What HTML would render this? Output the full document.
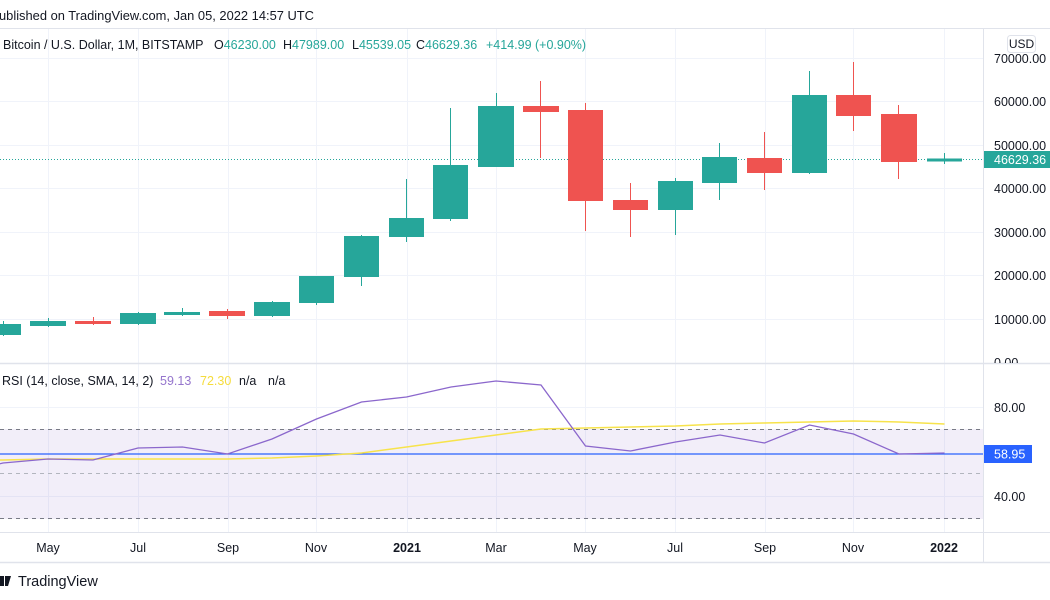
<!DOCTYPE html>
<html><head><meta charset="utf-8"><style>
html,body{margin:0;padding:0;background:#fff;}
svg{display:block;font-family:"Liberation Sans",sans-serif;}
</style></head><body>
<svg width="1050" height="600" viewBox="0 0 1050 600" xmlns="http://www.w3.org/2000/svg">
<rect width="1050" height="600" fill="#fff"/>
<!-- header -->
<text x="-1" y="20" font-size="13" fill="#131722" textLength="315" lengthAdjust="spacingAndGlyphs">ublished on TradingView.com, Jan 05, 2022 14:57 UTC</text>
<line x1="0" y1="28.5" x2="1050" y2="28.5" stroke="#e0e3eb"/>
<!-- grid -->
<g stroke="#f0f3fa" stroke-width="1">
<line x1="0" x2="983" y1="58.5" y2="58.5"/><line x1="0" x2="983" y1="101.5" y2="101.5"/>
<line x1="0" x2="983" y1="145.5" y2="145.5"/><line x1="0" x2="983" y1="188.5" y2="188.5"/>
<line x1="0" x2="983" y1="232.5" y2="232.5"/><line x1="0" x2="983" y1="275.5" y2="275.5"/>
<line x1="0" x2="983" y1="319.5" y2="319.5"/>
<line x1="0" x2="983" y1="407.5" y2="407.5"/><line x1="0" x2="983" y1="496.5" y2="496.5"/>
<line x1="48.5" x2="48.5" y1="29" y2="532"/><line x1="138.5" x2="138.5" y1="29" y2="532"/>
<line x1="228.5" x2="228.5" y1="29" y2="532"/><line x1="316.5" x2="316.5" y1="29" y2="532"/>
<line x1="407.5" x2="407.5" y1="29" y2="532"/><line x1="496.5" x2="496.5" y1="29" y2="532"/>
<line x1="585.5" x2="585.5" y1="29" y2="532"/><line x1="675.5" x2="675.5" y1="29" y2="532"/>
<line x1="765.5" x2="765.5" y1="29" y2="532"/><line x1="853.5" x2="853.5" y1="29" y2="532"/>
<line x1="944.5" x2="944.5" y1="29" y2="532"/>
</g>
<!-- RSI band -->
<rect x="0" y="429" width="983" height="90" fill="#7e57c2" fill-opacity="0.1"/>
<line x1="0" x2="983" y1="429.5" y2="429.5" stroke="#787b86" stroke-dasharray="4,4"/>
<line x1="0" x2="983" y1="473.5" y2="473.5" stroke="#b2b5be" stroke-dasharray="4,4"/>
<line x1="0" x2="983" y1="518.5" y2="518.5" stroke="#787b86" stroke-dasharray="4,4"/>
<!-- legend -->
<text x="3" y="49" font-size="12.5" fill="#131722">Bitcoin / U.S. Dollar, 1M, BITSTAMP</text>
<text y="49" font-size="12.5" fill="#131722"><tspan x="214">O</tspan><tspan fill="#26a69a">46230.00</tspan><tspan x="283">H</tspan><tspan fill="#26a69a">47989.00</tspan><tspan x="352">L</tspan><tspan fill="#26a69a">45539.05</tspan><tspan x="416">C</tspan><tspan fill="#26a69a">46629.36</tspan><tspan x="486" fill="#26a69a">+414.99 (+0.90%)</tspan></text>
<!-- current price dotted -->
<line x1="0" x2="983" y1="159.5" y2="159.5" stroke="#26a69a" stroke-dasharray="1,2"/>
<!-- candles -->
<g stroke-width="1">
<!-- wicks -->
<g stroke="#26a69a">
<line x1="3.5" x2="3.5" y1="321" y2="336"/>
<line x1="48.5" x2="48.5" y1="318" y2="327"/>
<line x1="138.5" x2="138.5" y1="312" y2="325"/>
<line x1="182.5" x2="182.5" y1="308" y2="316"/>
<line x1="272.5" x2="272.5" y1="301" y2="317"/>
<line x1="316.5" x2="316.5" y1="276" y2="305"/>
<line x1="361.5" x2="361.5" y1="235" y2="286"/>
<line x1="406.5" x2="406.5" y1="179" y2="242"/>
<line x1="450.5" x2="450.5" y1="108" y2="221"/>
<line x1="496.5" x2="496.5" y1="93" y2="167"/>
<line x1="675.5" x2="675.5" y1="178" y2="235"/>
<line x1="719.5" x2="719.5" y1="143" y2="200"/>
<line x1="809.5" x2="809.5" y1="71" y2="174"/>
<line x1="944.5" x2="944.5" y1="153" y2="164"/>
</g>
<g stroke="#ef5350">
<line x1="93.5" x2="93.5" y1="317" y2="325"/>
<line x1="227.5" x2="227.5" y1="309" y2="319"/>
<line x1="540.5" x2="540.5" y1="81" y2="158"/>
<line x1="585.5" x2="585.5" y1="103" y2="231"/>
<line x1="630.5" x2="630.5" y1="183" y2="237"/>
<line x1="764.5" x2="764.5" y1="132" y2="190"/>
<line x1="853.5" x2="853.5" y1="62" y2="131"/>
<line x1="898.5" x2="898.5" y1="105" y2="179"/>
</g>
<!-- bodies -->
<g fill="#26a69a">
<rect x="-15" y="324" width="36" height="11"/>
<rect x="30" y="321" width="36" height="5"/>
<rect x="120" y="313" width="36" height="11"/>
<rect x="164" y="312" width="36" height="3"/>
<rect x="254" y="302" width="36" height="14"/>
<rect x="299" y="276" width="35" height="27"/>
<rect x="344" y="236" width="35" height="41"/>
<rect x="389" y="218" width="35" height="19"/>
<rect x="433" y="165" width="35" height="54"/>
<rect x="478" y="106" width="36" height="61"/>
<rect x="658" y="181" width="35" height="29"/>
<rect x="702" y="157" width="35" height="26"/>
<rect x="792" y="95" width="35" height="78"/>
<rect x="927" y="158.5" width="35" height="3"/>
</g>
<g fill="#ef5350">
<rect x="75" y="321" width="36" height="3"/>
<rect x="209" y="311" width="36" height="5"/>
<rect x="523" y="106" width="36" height="6"/>
<rect x="568" y="110" width="35" height="91"/>
<rect x="613" y="200" width="35" height="10"/>
<rect x="747" y="158" width="35" height="15"/>
<rect x="836" y="95" width="35" height="21"/>
<rect x="881" y="114" width="36" height="48"/>
</g>
</g>
<!-- pane separator -->
<line x1="0" x2="1050" y1="363.5" y2="363.5" stroke="#e0e3eb" stroke-width="1.5"/>
<!-- RSI -->
<text x="2" y="385" font-size="12.5" fill="#131722">RSI (14, close, SMA, 14, 2)</text>
<text x="160" y="385" font-size="12.5" fill="#9575cd">59.13</text>
<text x="200" y="385" font-size="12.5" fill="#f5dc3c">72.30</text>
<text x="239" y="385" font-size="12.5" fill="#131722">n/a</text>
<text x="268" y="385" font-size="12.5" fill="#131722">n/a</text>
<line x1="0" x2="983" y1="454" y2="454" stroke="#2962ff" stroke-width="1.2"/>
<polyline fill="none" stroke="#f7e34b" stroke-width="1.5" points="-5,460 3,460 48,459 93,459 138,459 182.5,459 227.5,459 272,458 316.5,456 361.5,453 406.5,447 451,441 496,435 541,429 585.5,428 630.5,427 675.5,426 720,424 764.5,423 809.5,422 853.5,421 899,422 944.5,424"/>
<polyline fill="none" stroke="#8b67cc" stroke-width="1.3" points="-5,465 3,463 48,459 93,460 138,448 182.5,447 227.5,454 272,439 316.5,419 361.5,402 406.5,397 451,387 496,381 541,385 585.5,446 630.5,451 675.5,442 720,435 764.5,443 809.5,425 853.5,434 899,454 944.5,453"/>
<!-- price axis -->
<rect x="984" y="29" width="66" height="503" fill="#fff"/>
<line x1="983.5" x2="983.5" y1="29" y2="562" stroke="#e0e3eb"/>
<line x1="984" x2="1050" y1="363.5" y2="363.5" stroke="#e0e3eb" stroke-width="1.5"/>
<g font-size="12.5" fill="#131722">
<text x="994" y="63">70000.00</text>
<text x="994" y="106">60000.00</text>
<text x="994" y="150">50000.00</text>
<text x="994" y="193">40000.00</text>
<text x="994" y="237">30000.00</text>
<text x="994" y="280">20000.00</text>
<text x="994" y="324">10000.00</text>
<svg x="984" y="340" width="66" height="23" overflow="hidden"><text x="10" y="27">0.00</text></svg>
<text x="994" y="412">80.00</text>
<text x="994" y="501">40.00</text>
</g>
<rect x="1007.5" y="35.5" width="28" height="17" rx="3" fill="#fff" stroke="#e0e3eb"/>
<text x="1021.5" y="48" font-size="12" fill="#131722" text-anchor="middle">USD</text>
<rect x="984" y="151" width="66" height="17" fill="#26a69a"/>
<text x="994" y="164" font-size="12.5" fill="#fff">46629.36</text>
<rect x="984" y="445" width="48" height="18" fill="#2962ff"/>
<text x="994" y="458.5" font-size="12.5" fill="#fff">58.95</text>
<!-- time axis -->
<line x1="0" x2="1050" y1="532.5" y2="532.5" stroke="#e0e3eb"/>
<line x1="0" x2="1050" y1="562.5" y2="562.5" stroke="#e0e3eb" stroke-width="1.5"/>
<g font-size="12.5" fill="#131722" text-anchor="middle">
<text x="48" y="552">May</text>
<text x="138" y="552">Jul</text>
<text x="228" y="552">Sep</text>
<text x="316" y="552">Nov</text>
<text x="407" y="552" font-weight="bold">2021</text>
<text x="496" y="552">Mar</text>
<text x="585" y="552">May</text>
<text x="675" y="552">Jul</text>
<text x="765" y="552">Sep</text>
<text x="853" y="552">Nov</text>
<text x="944" y="552" font-weight="bold">2022</text>
</g>
<!-- footer logo -->
<g fill="#131722">
<rect x="0" y="576" width="4" height="10"/>
<polygon points="5,576 11,576 8,586 5,586"/>
</g>
<text x="18" y="586" font-size="14.5" fill="#131722">TradingView</text>
</svg>
</body></html>
